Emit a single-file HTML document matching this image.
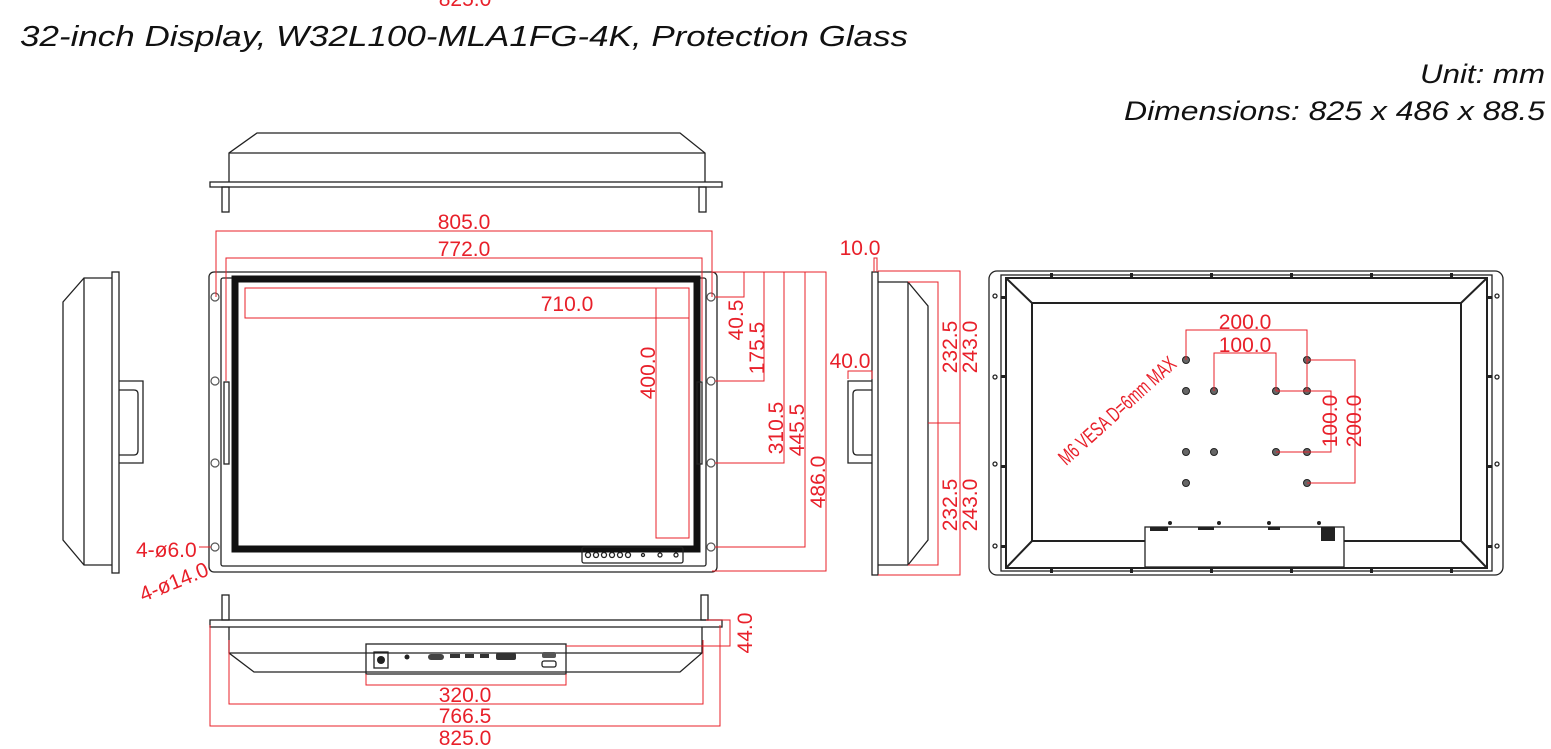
<!DOCTYPE html>
<html><head><meta charset="utf-8"><style>
html,body{margin:0;padding:0;background:#fff;width:1551px;height:749px;overflow:hidden}
svg{display:block}
.k{fill:none;stroke:#222;stroke-width:1.3}
.kt{fill:none;stroke:#222;stroke-width:2}
.r{fill:none;stroke:#e8202a;stroke-width:1}
.t{fill:#e8202a;font-family:"Liberation Sans",sans-serif;font-size:21px}
.h{fill:none;stroke:#555;stroke-width:1.2}
</style></head><body>
<svg width="1551" height="749" viewBox="0 0 1551 749">
<text x="20" y="46" font-family="Liberation Sans,sans-serif" font-size="29" font-style="italic" fill="#111" textLength="888" lengthAdjust="spacingAndGlyphs">32-inch Display, W32L100-MLA1FG-4K, Protection Glass</text>
<text x="1420" y="83" font-family="Liberation Sans,sans-serif" font-size="27" font-style="italic" fill="#111" textLength="125" lengthAdjust="spacingAndGlyphs">Unit: mm</text>
<text x="1124" y="120" font-family="Liberation Sans,sans-serif" font-size="27" font-style="italic" fill="#111" textLength="421" lengthAdjust="spacingAndGlyphs">Dimensions: 825 x 486 x 88.5</text>
<text class="t" x="465" y="6" text-anchor="middle">825.0</text>

<!-- top view -->
<path class="k" d="M229,182 V153 L257,133 H680 L705,153 V182"/>
<line class="k" x1="229" y1="153" x2="705" y2="153"/>
<rect class="k" x="210" y="182" width="512" height="5"/>
<rect class="k" x="222" y="187" width="7" height="25"/>
<rect class="k" x="699" y="187" width="7" height="25"/>

<!-- left side view -->
<rect class="k" x="112" y="272" width="7" height="301"/>
<path class="k" d="M112,278 H84 L63,302 V540 L84,565 H112"/>
<line class="k" x1="84" y1="278" x2="84" y2="565"/>
<path class="k" d="M119,381 H143 V463 H119"/>
<path class="k" d="M119,390 H134 Q138,390 138,394 V450 Q138,455 134,455 H119"/>

<!-- front view -->
<rect class="k" x="209" y="272" width="508" height="300" rx="5"/>
<rect class="k" x="221" y="278" width="485" height="288" rx="2"/>
<rect x="235" y="279" width="462" height="270" fill="none" stroke="#111" stroke-width="7"/>
<rect class="k" x="582" y="547" width="101" height="16" rx="2"/>
<g class="k" stroke-width="1">
<circle cx="588" cy="555" r="2.5"/><circle cx="596" cy="555" r="2.5"/><circle cx="604" cy="555" r="2.5"/><circle cx="612" cy="555" r="2.5"/><circle cx="620" cy="555" r="2.5"/><circle cx="628" cy="555" r="2.5"/>
<circle cx="643" cy="555" r="1.5"/><circle cx="660" cy="555" r="2"/><circle cx="676" cy="555" r="2"/></g>
<g class="h"><circle cx="215" cy="297" r="4"/><circle cx="215" cy="381" r="4"/><circle cx="215" cy="463" r="4"/><circle cx="215" cy="547" r="4"/>
<circle cx="711" cy="297" r="4"/><circle cx="711" cy="381" r="4"/><circle cx="711" cy="463" r="4"/><circle cx="711" cy="547" r="4"/></g>
<rect class="k" x="224" y="382" width="5" height="82"/>
<rect class="k" x="697" y="382" width="5" height="82"/>
<!-- front dims -->
<path class="r" d="M216,297 V231 H712 V297"/>
<path class="r" d="M226,381 V258 H702 V381"/>
<text class="t" x="464" y="229" text-anchor="middle">805.0</text>
<text class="t" x="464" y="256" text-anchor="middle">772.0</text>
<rect class="r" x="245" y="288" width="444" height="30"/>
<rect class="r" x="656" y="288" width="33" height="250"/>
<text class="t" x="567" y="311" text-anchor="middle">710.0</text>
<text class="t" transform="translate(655,373) rotate(-90)" text-anchor="middle">400.0</text>
<path class="r" d="M712,272 H826 V571 H712"/>
<path class="r" d="M715,297 H744 V272"/>
<path class="r" d="M715,381 H764 V272"/>
<path class="r" d="M715,463 H784 V272"/>
<path class="r" d="M715,547 H805 V272"/>
<text class="t" transform="translate(743,320) rotate(-90)" text-anchor="middle">40.5</text>
<text class="t" transform="translate(764,348) rotate(-90)" text-anchor="middle">175.5</text>
<text class="t" transform="translate(783,428) rotate(-90)" text-anchor="middle">310.5</text>
<text class="t" transform="translate(804,430) rotate(-90)" text-anchor="middle">445.5</text>
<text class="t" transform="translate(825,482) rotate(-90)" text-anchor="middle">486.0</text>
<line class="r" x1="199" y1="547" x2="211" y2="547"/>
<text class="t" x="136" y="557">4-ø6.0</text>
<text class="t" transform="translate(143,602) rotate(-22)">4-ø14.0</text>

<!-- right side view -->
<rect class="k" x="872" y="272" width="6" height="303"/>
<path class="k" d="M878,282 H908 L928,306 V540 L908,565 H878"/>
<line class="k" x1="908" y1="282" x2="908" y2="565"/>
<path class="k" d="M872,381 H848 V463 H872"/>
<path class="k" d="M872,390 H857 Q853,390 853,394 V450 Q853,455 857,455 H872"/>
<path class="r" d="M874,272 V258 H877 V272"/>
<text class="t" x="860" y="255" text-anchor="middle">10.0</text>
<path class="r" d="M848,379 V371 H872 V379"/>
<text class="t" x="850" y="368" text-anchor="middle">40.0</text>
<path class="r" d="M878,271 H960 V575 H878"/>
<path class="r" d="M908,282 H938 V565 H908"/>
<line class="r" x1="928" y1="423" x2="960" y2="423"/>
<text class="t" transform="translate(957,347) rotate(-90)" text-anchor="middle">232.5</text>
<text class="t" transform="translate(977,347) rotate(-90)" text-anchor="middle">243.0</text>
<text class="t" transform="translate(957,505) rotate(-90)" text-anchor="middle">232.5</text>
<text class="t" transform="translate(977,505) rotate(-90)" text-anchor="middle">243.0</text>

<!-- back view -->
<rect class="k" x="989" y="271" width="514" height="304" rx="8"/>
<rect class="k" x="1001" y="275" width="491" height="296"/>
<rect class="kt" x="1006" y="278" width="481" height="290"/>
<path class="kt" d="M1032,541 V303 H1461 V541 H1344 M1145,541 H1032"/>
<path class="kt" d="M1006,278 L1032,303 M1487,278 L1461,303 M1006,568 L1032,541 M1487,568 L1461,541"/>
<rect class="k" x="1145" y="527" width="199" height="40"/>
<g fill="#222">
<circle cx="1170" cy="523" r="2"/><circle cx="1219" cy="523" r="2"/><circle cx="1269" cy="523" r="2"/><circle cx="1319" cy="523" r="2"/>
<rect x="1150" y="527" width="18" height="4"/><rect x="1198" y="527" width="16" height="3"/><rect x="1268" y="527" width="12" height="3"/><rect x="1321" y="527" width="14" height="14"/>
<rect x="1050" y="273" width="3" height="5"/><rect x="1130" y="273" width="3" height="5"/><rect x="1210" y="273" width="3" height="5"/><rect x="1290" y="273" width="3" height="5"/><rect x="1370" y="273" width="3" height="5"/><rect x="1450" y="273" width="3" height="5"/>
<rect x="1050" y="568" width="3" height="5"/><rect x="1130" y="568" width="3" height="5"/><rect x="1210" y="568" width="3" height="5"/><rect x="1290" y="568" width="3" height="5"/><rect x="1370" y="568" width="3" height="5"/><rect x="1450" y="568" width="3" height="5"/>
<rect x="1001" y="296" width="5" height="3"/><rect x="1001" y="375" width="5" height="3"/><rect x="1001" y="465" width="5" height="3"/><rect x="1001" y="545" width="5" height="3"/>
<rect x="1487" y="296" width="5" height="3"/><rect x="1487" y="375" width="5" height="3"/><rect x="1487" y="465" width="5" height="3"/><rect x="1487" y="545" width="5" height="3"/>
</g>
<g class="k" stroke-width="1"><circle cx="995" cy="296" r="2"/><circle cx="995" cy="377" r="2"/><circle cx="995" cy="464" r="2"/><circle cx="995" cy="546" r="2"/>
<circle cx="1497" cy="296" r="2"/><circle cx="1497" cy="377" r="2"/><circle cx="1497" cy="464" r="2"/><circle cx="1497" cy="546" r="2"/></g>
<g fill="#666" stroke="#222" stroke-width="1">
<circle cx="1186" cy="360" r="3.5"/><circle cx="1307" cy="360" r="3.5"/>
<circle cx="1186" cy="391" r="3.5"/><circle cx="1214" cy="391" r="3.5"/><circle cx="1276" cy="391" r="3.5"/><circle cx="1307" cy="391" r="3.5"/>
<circle cx="1186" cy="452" r="3.5"/><circle cx="1214" cy="452" r="3.5"/><circle cx="1276" cy="452" r="3.5"/><circle cx="1307" cy="452" r="3.5"/>
<circle cx="1186" cy="483" r="3.5"/><circle cx="1307" cy="483" r="3.5"/></g>
<path class="r" d="M1186,360 V330 H1307 V391"/>
<path class="r" d="M1214,391 V353 H1276 V391"/>
<path class="r" d="M1276,391 H1331 V452 H1276"/>
<path class="r" d="M1307,360 H1355 V483 H1307"/>
<text class="t" x="1245" y="329" text-anchor="middle" font-size="15">200.0</text>
<text class="t" x="1245" y="352" text-anchor="middle" font-size="15">100.0</text>
<text class="t" transform="translate(1337,421) rotate(-90)" text-anchor="middle" font-size="15">100.0</text>
<text class="t" transform="translate(1361,421) rotate(-90)" text-anchor="middle" font-size="15">200.0</text>
<text class="t" transform="translate(1122,416) rotate(-42)" text-anchor="middle" font-size="11" textLength="150" lengthAdjust="spacingAndGlyphs">M6 VESA D=6mm MAX</text>

<!-- bottom view -->
<rect class="k" x="222" y="595" width="7" height="25"/>
<rect class="k" x="701" y="595" width="7" height="25"/>
<rect class="k" x="210" y="620" width="512" height="7"/>
<path class="k" d="M229,627 V653 L254,672 H680 L702,653 V627"/>
<line class="k" x1="229" y1="653" x2="702" y2="653"/>
<rect class="k" x="366" y="644" width="200" height="30" fill="#fff"/>
<rect class="k" x="374" y="652" width="14" height="16"/><circle cx="381" cy="660" r="4" fill="#222"/>
<circle cx="407" cy="657" r="2.5" fill="#222"/>
<rect x="428" y="654" width="16" height="6" rx="3" fill="#444"/>
<rect x="450" y="654" width="10" height="4" fill="#333"/><rect x="465" y="654" width="9" height="4" fill="#333"/><rect x="480" y="654" width="9" height="4" fill="#333"/>
<rect x="496" y="653" width="20" height="7" rx="2" fill="#333"/>
<rect x="542" y="652" width="14" height="6" rx="2" fill="#555"/><rect class="k" x="542" y="661" width="14" height="6" rx="2"/>
<path class="r" d="M366,674 V685 H566 V674"/>
<path class="r" d="M229,640 V704 H703 V640"/>
<path class="r" d="M210,625 V726 H720 V625"/>
<path class="r" d="M706,620 H730 V646 H566"/>
<text class="t" x="465" y="702" text-anchor="middle">320.0</text>
<text class="t" x="465" y="723" text-anchor="middle">766.5</text>
<text class="t" x="465" y="745" text-anchor="middle">825.0</text>
<text class="t" transform="translate(752,633) rotate(-90)" text-anchor="middle">44.0</text>
</svg>
</body></html>
